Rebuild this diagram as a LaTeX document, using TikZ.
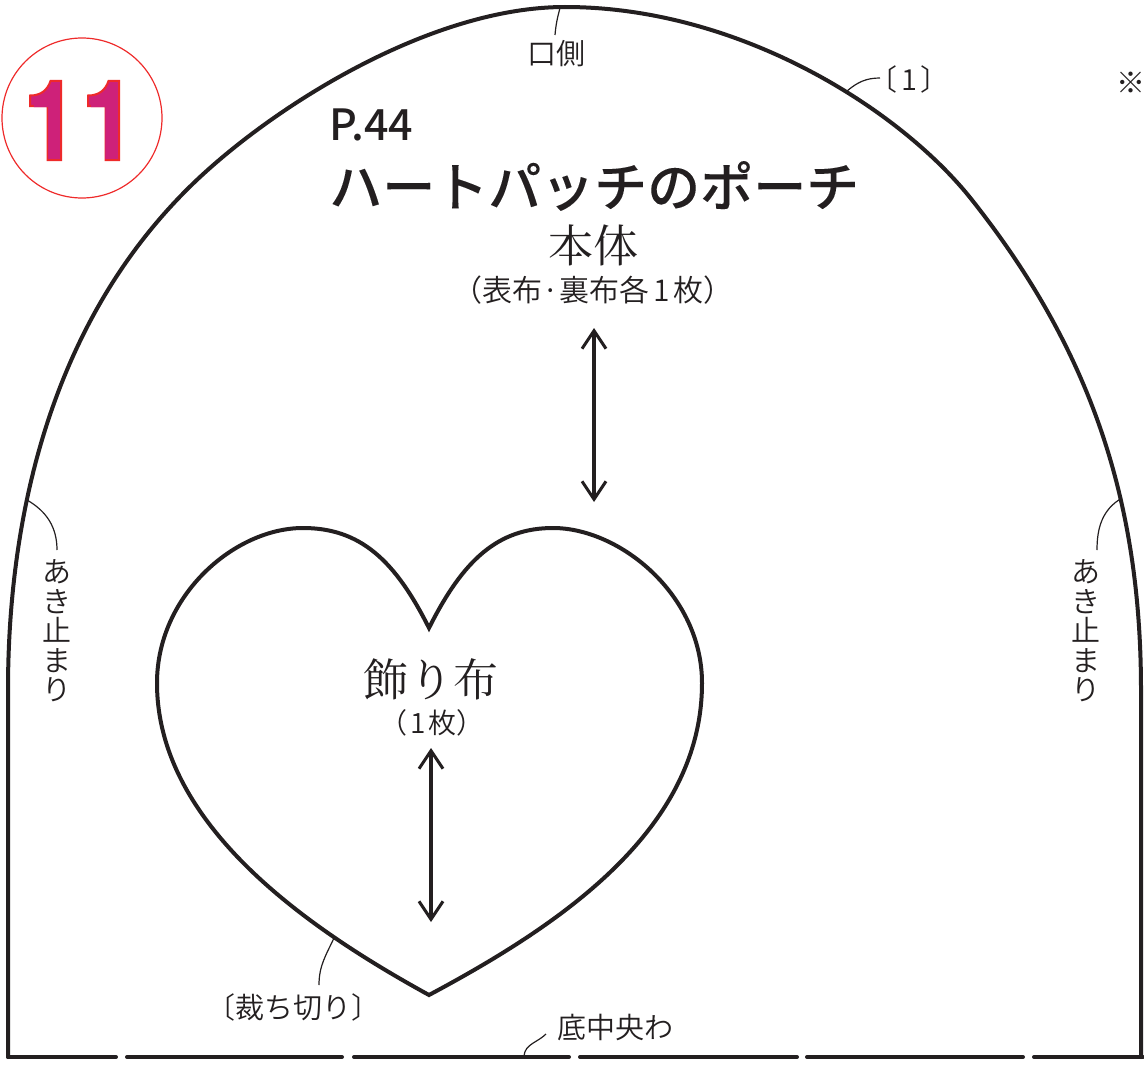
\documentclass[tikz,border=0pt]{standalone}
\usepackage{fontspec}
\usetikzlibrary{arrows.meta}
\setmainfont{Liberation Sans}
\newfontfamily\gothic{Noto Sans CJK JP DemiLight}
\newfontfamily\gothicmed{Noto Sans CJK JP Medium}
\newfontfamily\gothicbold[FakeBold=0.012]{Noto Sans CJK JP Medium}
\newfontfamily\mincho{Noto Serif CJK JP}
\newfontfamily\numfont[FakeStretch=0.8]{TeX Gyre Heros Bold}
\definecolor{ink}{HTML}{231F20}
\definecolor{numfill}{HTML}{CE2179}
\definecolor{numedge}{HTML}{EE2A2A}
\newcommand{\pxfont}[1]{\fontsize{#1pt}{#1pt}\selectfont}
\tikzset{
  x=1pt,y=-1pt,
  pattern line/.style={draw=ink,line width=4pt,line cap=round,line join=miter},
  leader/.style={draw=ink,line width=1.2pt},
  grain/.style={draw=ink,line width=4pt,{Straight Barb[length=18pt,width=24pt,line width=3pt]}-{Straight Barb[length=18pt,width=24pt,line width=3pt]}},
  label/.style={text=ink,inner sep=0pt,font=\gothic\pxfont{29},align=center},
  bigmark/.style={text=ink,inner sep=0pt,font=\mincho\pxfont{45},align=center},
  title/.style={text=ink,inner sep=0pt,font=\gothicbold\pxfont{53}},
  vert/.style={text=ink,inner sep=0pt,font=\gothic\fontsize{29pt}{29.5pt}\selectfont,align=center},
  numback/.style={fill=numfill,draw=numedge,line width=2pt,line join=miter}
}
\newcommand{\onebacking}[1]{%
  \path[numback,xshift=#1pt] (30,95.5) .. controls (41,95.5) and (47.5,90) .. (50.5,81)
     -- (61,81) -- (61,160) -- (47.5,160) -- (47.5,106) -- (30,106) -- cycle;}
\begin{document}
\begin{tikzpicture}
\useasboundingbox (0,0) rectangle (1144,1065);
% badge
\node (badge) [draw=numedge,line width=1.2pt,circle,minimum size=160pt,inner sep=0pt] at (82,118) {};
\onebacking{0}
\onebacking{58}
\node (num) [inner sep=0pt,anchor=base west,text=numfill,font=\numfont\pxfont{106}] at (28,159) {1\kern10pt 1};
% outline
\draw[pattern line] (8,1057) -- (8,690) .. controls (8,510) and (54,313) .. (200,177)
   .. controls (283,100) and (435,7) .. (565,7)
   .. controls (740,7) and (901,110) .. (972,200)
   .. controls (1090,349) and (1141,500) .. (1141,690) -- (1141,1057);
\foreach \a/\b in {8/116,127/342,354/569,580/797,807/1023,1034/1143}
  \draw[pattern line] (\a,1057) -- (\b,1057);
% heart
\draw[pattern line] (429,628) .. controls (395,560) and (360,528) .. (303,528)
  .. controls (235,528) and (157,595) .. (157,683)
  .. controls (157,830) and (320,935) .. (429,995)
  .. controls (560,925) and (702,830) .. (702,683)
  .. controls (702,595) and (620,528) .. (553,528)
  .. controls (498,528) and (463,560) .. (429,628) -- cycle;
% text
\node (p44) [title,anchor=west,font=\gothicmed\pxfont{43}] at (329,125) {P.44};
\node (ttl) [title,anchor=west] at (329,186) {ハートパッチのポーチ};
\node (body) [bigmark] at (593,245) {本体};
\node (bodyn) [label,font=\gothic\pxfont{30}] at (593,290) {（表布·裏布各\kern4pt 1\kern4pt 枚）};
\node (deco) [bigmark] at (431,679) {飾り布};
\node (decon) [label,font=\gothic\pxfont{28}] at (432,723) {（\kern3pt 1\kern3pt 枚）};
\node (mouth) [label] at (556,54) {口側};
\node (one) [label] at (909,79) {〔\kern4pt 1\kern4pt 〕};
\node (mark) [label] at (1131,83) {※};
\node (cut) [label] at (293,1007) {〔裁ち切り〕};
\node (fold) [label] at (615,1028) {底中央わ};
\node (openl) [vert] at (57,631) {あ\\き\\止\\ま\\り};
\node (openr) [vert] at (1086,631) {あ\\き\\止\\ま\\り};
% grain arrows
\coordinate (g1a) at (594,328); \coordinate (g1b) at (594,502);
\coordinate (g2a) at (431,748); \coordinate (g2b) at (431,922);
\draw[grain] (g1a) -- (g1b);
\draw[grain] (g2a) -- (g2b);
% leaders
\coordinate (m0) at (560,8); \coordinate (m1) at (555,35);
\coordinate (o0) at (847,91); \coordinate (o1) at (880,78);
\coordinate (l0) at (27,500); \coordinate (l1) at (57,550);
\coordinate (r0) at (1122,498); \coordinate (r1) at (1097,550);
\coordinate (c0) at (334,938); \coordinate (c1) at (319,985);
\coordinate (f0) at (524,1056); \coordinate (f1) at (546,1034);
\draw[leader] (m0) to[out=-105,in=85] (m1);
\draw[leader] (o0) to[out=40,in=180] (o1);
\draw[leader] (l0) to[out=-30,in=90] (l1);
\draw[leader] (r0) to[out=-150,in=90] (r1);
\draw[leader] (c0) to[out=-115,in=90] (c1);
\draw[leader] (f0) to[out=85,in=-135] (f1);
\end{tikzpicture}
\end{document}
